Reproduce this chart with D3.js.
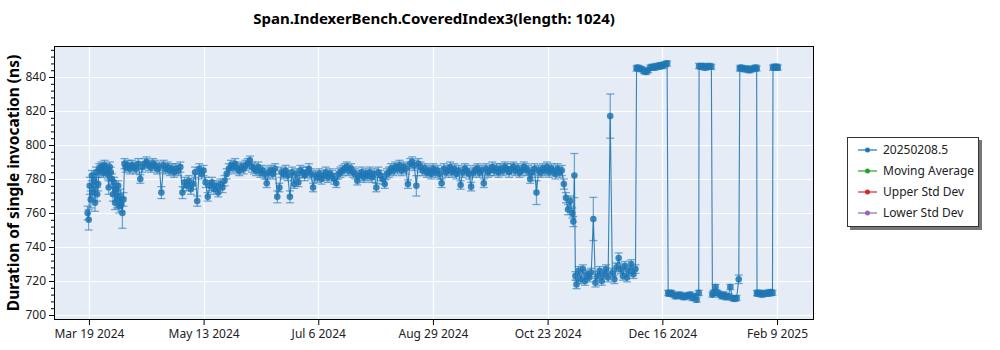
<!DOCTYPE html>
<html>
<head>
<meta charset="utf-8">
<script src="https://cdn.jsdelivr.net/npm/d3@7"></script>
<style>
  html, body { margin: 0; padding: 0; background: #fff; }
  svg { display: block; font-family: "Noto Sans", "Open Sans", sans-serif; }
</style>
</head>
<body>
<svg id="chart" width="1000" height="350"></svg>
<script>
const chartTitle = "Span.IndexerBench.CoveredIndex3(length: 1024)";
const yAxisTitle = "Duration of single invocation (ns)";
const seriesNames = ["20250208.5", "Moving Average", "Upper Std Dev", "Lower Std Dev"];
const seriesColors = ["#1f77b4", "#2ca02c", "#d62728", "#9467bd"];

const xTickDates = ["2024-03-19T15", "2024-05-13T01", "2024-07-06T11", "2024-08-29T21", "2024-10-23T07", "2024-12-16T18", "2025-02-09T04"];
const xDomainDates = ["2024-03-03T01", "2025-02-26T17"];
const yDomain = [697.06, 858.24];
const yTicks = [700, 720, 740, 760, 780, 800, 820, 840];
const yMinorTicks = [704, 708, 712, 716, 724, 728, 732, 736, 744, 748, 752, 756, 764, 768, 772, 776, 784, 788, 792, 796, 804, 808, 812, 816, 824, 828, 832, 836, 844, 848, 852, 856];

const runDates = [
  "2024-03-19T00","2024-03-19T12","2024-03-20T00","2024-03-20T12","2024-03-21T00","2024-03-21T12","2024-03-22T00","2024-03-22T12","2024-03-23T00","2024-03-23T12","2024-03-24T00","2024-03-24T12",
  "2024-03-25T00","2024-03-25T12","2024-03-26T00","2024-03-26T12","2024-03-27T00","2024-03-27T12","2024-03-28T00","2024-03-28T12","2024-03-29T00","2024-03-29T12","2024-03-30T00","2024-03-30T12",
  "2024-03-31T00","2024-03-31T12","2024-04-01T00","2024-04-01T12","2024-04-02T00","2024-04-02T12","2024-04-03T00","2024-04-03T12","2024-04-04T00","2024-04-04T12","2024-04-05T00","2024-04-05T12",
  "2024-04-06","2024-04-07","2024-04-08","2024-04-09","2024-04-10","2024-04-11","2024-04-12","2024-04-13","2024-04-14","2024-04-15","2024-04-16","2024-04-17","2024-04-18","2024-04-19",
  "2024-04-20","2024-04-21","2024-04-22","2024-04-23","2024-04-24","2024-04-25","2024-04-26","2024-04-27","2024-04-28","2024-04-29","2024-04-30","2024-05-01","2024-05-02",
  "2024-05-03","2024-05-04","2024-05-05","2024-05-06","2024-05-07","2024-05-08","2024-05-09","2024-05-10","2024-05-11","2024-05-12","2024-05-13","2024-05-14","2024-05-15",
  "2024-05-16","2024-05-17","2024-05-18","2024-05-19","2024-05-20","2024-05-21","2024-05-22","2024-05-23","2024-05-24","2024-05-25",
  "2024-05-26","2024-05-27","2024-05-28","2024-05-29","2024-05-30","2024-05-31",
  "2024-06-01","2024-06-02","2024-06-03","2024-06-04","2024-06-05","2024-06-06","2024-06-07","2024-06-08","2024-06-09","2024-06-10","2024-06-11","2024-06-12","2024-06-13","2024-06-14","2024-06-15",
  "2024-06-16","2024-06-17","2024-06-18","2024-06-19","2024-06-20","2024-06-21","2024-06-22","2024-06-23","2024-06-24","2024-06-25","2024-06-26","2024-06-27","2024-06-28","2024-06-29","2024-06-30",
  "2024-07-01","2024-07-02","2024-07-03","2024-07-04","2024-07-05","2024-07-06","2024-07-07","2024-07-08","2024-07-09","2024-07-10","2024-07-11","2024-07-12","2024-07-13","2024-07-14","2024-07-15","2024-07-16",
  "2024-07-17","2024-07-18","2024-07-19","2024-07-20","2024-07-21","2024-07-22","2024-07-23","2024-07-24","2024-07-25","2024-07-26","2024-07-27","2024-07-28","2024-07-29","2024-07-30","2024-07-31",
  "2024-08-01","2024-08-02","2024-08-03","2024-08-04","2024-08-05","2024-08-06","2024-08-07","2024-08-08","2024-08-09","2024-08-10","2024-08-11","2024-08-12","2024-08-13","2024-08-14","2024-08-15","2024-08-16",
  "2024-08-17","2024-08-18","2024-08-19","2024-08-20","2024-08-21","2024-08-22","2024-08-23","2024-08-24","2024-08-25","2024-08-26","2024-08-27","2024-08-28","2024-08-29","2024-08-30","2024-08-31",
  "2024-09-01","2024-09-02","2024-09-03","2024-09-04","2024-09-05","2024-09-06","2024-09-07","2024-09-08","2024-09-09","2024-09-10","2024-09-11","2024-09-12","2024-09-13","2024-09-14","2024-09-15",
  "2024-09-16","2024-09-17","2024-09-18","2024-09-19","2024-09-20","2024-09-21","2024-09-22","2024-09-23","2024-09-24","2024-09-25","2024-09-26","2024-09-27","2024-09-28","2024-09-29","2024-09-30",
  "2024-10-01","2024-10-02","2024-10-03","2024-10-04","2024-10-05","2024-10-06","2024-10-07","2024-10-08","2024-10-09","2024-10-10","2024-10-11","2024-10-12","2024-10-13","2024-10-14","2024-10-15",
  "2024-10-16","2024-10-17","2024-10-18","2024-10-19","2024-10-20","2024-10-21","2024-10-22","2024-10-23","2024-10-24","2024-10-25","2024-10-26","2024-10-27","2024-10-28","2024-10-29","2024-10-30",
  "2024-10-31","2024-11-01","2024-11-02","2024-11-03","2024-11-04T00","2024-11-04T12","2024-11-05T00","2024-11-05T12",
  "2024-11-06","2024-11-07","2024-11-08","2024-11-09","2024-11-10","2024-11-11","2024-11-12","2024-11-13","2024-11-14","2024-11-15","2024-11-16","2024-11-17","2024-11-18","2024-11-19","2024-11-20",
  "2024-11-21","2024-11-22","2024-11-23","2024-11-24","2024-11-25","2024-11-26","2024-11-27","2024-11-28","2024-11-29","2024-11-30","2024-12-01","2024-12-02","2024-12-03","2024-12-04T00",
  "2024-12-04T12","2024-12-05","2024-12-06","2024-12-07","2024-12-08","2024-12-09","2024-12-10","2024-12-11","2024-12-12","2024-12-13","2024-12-14","2024-12-15","2024-12-16","2024-12-17","2024-12-18","2024-12-19T00",
  "2024-12-19T12","2024-12-20","2024-12-21","2024-12-22","2024-12-23","2024-12-24","2024-12-25","2024-12-26","2024-12-27","2024-12-28","2024-12-29","2024-12-30","2024-12-31","2025-01-01","2025-01-02","2025-01-03T00",
  "2025-01-03T04","2025-01-04","2025-01-05","2025-01-06","2025-01-07","2025-01-08","2025-01-09T00",
  "2025-01-09T12","2025-01-10","2025-01-11","2025-01-12","2025-01-13","2025-01-14","2025-01-15","2025-01-16","2025-01-17","2025-01-18","2025-01-19","2025-01-20","2025-01-21","2025-01-22T00",
  "2025-01-22T12","2025-01-23","2025-01-24","2025-01-25","2025-01-26","2025-01-27","2025-01-28","2025-01-29","2025-01-30T00","2025-01-30T12",
  "2025-01-30T16","2025-01-31","2025-02-01","2025-02-02","2025-02-03","2025-02-04","2025-02-05","2025-02-06","2025-02-07T00",
  "2025-02-07T06","2025-02-08T00","2025-02-08T12","2025-02-09T00","2025-02-09T12"
];

const runValues = [
  760,756,776,768,782,772,779,766,784,771,777,786,
  785,787,786,784,788,785,786,783,775,787,784,780,
  771,778,766,774,768,776,764,770,765,760,768,789,
  787,788,786,788,787,786,789,780,787,789,790,788,787,789,
  788,786,787,772,788,786,787,785,786,784,786,785,787,
  772,778,776,779,774,777,784,767,786,783,785,778,769.5,
  776,778,774,776,772,777,775,779,783,786,
  788,787,789,786,785,787,
  786,788,789,791,787,786,785,787,784,785,783,777.5,784,785,783,
  786,769.5,775,784,783,785,782,769.5,784,777,783,778,785,784,782,
  784,786,783,775,782,781,783,780,782,784,781,783,782,780,777.5,783,
  784,785,786,787,785,786,784,783,779,782,784,781,783,782,784,
  781,783,775,784,782,780,777,783,784,786,785,787,786,788,785,787,
  786,777,789,790,788,776,789,787,785,786,784,785,783,786,784,
  785,783,777.5,786,784,785,787,784,786,783,785,776.5,784,786,785,
  783,775.5,784,785,786,784,785,777.5,786,784,785,787,785,786,784,
  786,785,787,786,784,786,787,785,786,784,785,787,786,785,780,
  784,786,772,785,784,786,785,787,784,786,785,783,786,784,785,
  777,769,762,767,760,755,782,723,
  718,726,721,727,720,724,722,725,756.5,719,723,726,720,724,727,
  722,817,725,721,728,733.5,727,723,729,722,726,730,724,727,
  845,845.5,845,844.5,843.5,843,844,845.5,846,845.5,846.5,846,847,846.5,847.5,848,
  713,712.5,713,712,711,711.5,712,711,710.5,711.5,711,712,710,711,709,713,
  846.5,846,846.5,845.5,846,846.5,846,
  712,713,716.5,713,712,711,712,710.5,711,716.5,710,709.5,710,721,
  845,845.5,845,844.5,845,844,844.5,845,845.5,845,
  713,712.5,713,712,712.5,713,712.5,713.5,713,
  845.5,846,845.5,846,845.5
];

const runErrors = [
  4,6,5,5,3,5,4,5,3,4,4,3,
  3,3,3,3,3,3,3,3,4,3,3,3,
  4,3,4,3,5,3,4,4,4,9,4,3,
  3,3,3,3,3,3,3,2.5,3,3,3,3,3,3,
  3,3,3,3.5,3,3,3,3,3,3,3,3,3,
  3.5,3,3,3,3,3,3,3,3,3,3,3,2.5,
  3,3,3,3,2.5,3,3,3,3,3,
  3,3,3,3,3,3,
  3,3,3,2.5,3,3,3,3,3,3,3,2.5,3,3,3,
  3,3.5,2.5,3,3,3,3,3.5,3,2.5,3,2.5,3,3,3,
  3,3,3,2.5,3,3,3,3,3,3,3,3,3,3,2.5,3,
  3,3,3,3,3,3,3,3,2.5,3,3,3,3,3,3,
  3,3,2.5,3,3,3,2.5,3,3,3,3,3,3,3,3,3,
  3,2.5,3,3,3,6,3,3,3,3,3,3,3,3,3,
  3,3,2.5,3,3,3,3,3,3,3,3,2.5,3,3,3,
  3,2.5,3,3,3,3,3,2.5,3,3,3,3,3,3,3,
  3,3,3,3,3,3,3,3,3,3,3,3,3,3,2.5,
  3,3,7,3,3,3,3,3,3,3,3,3,3,3,3,
  3,3,3,3,3,3,13,2.5,
  2.5,2.5,2.5,2.5,2.5,2.5,2.5,2.5,12.7,2.5,2.5,2.5,2.5,2.5,2.5,
  2.5,13,2.5,2.5,2.5,3,2.5,2.5,2.5,2.5,2.5,2.5,2.5,2.5,
  1.5,1.5,1.5,1.5,1.5,1.5,1.5,1.5,1.5,1.5,1.5,1.5,1.5,1.5,1.5,1.5,
  1.5,1.5,1.5,1.5,1.5,1.5,1.5,1.5,1.5,1.5,1.5,1.5,1.5,1.5,1.5,1.5,
  1.5,1.5,1.5,1.5,1.5,1.5,1.5,
  1.5,1.5,1.5,1.5,1.5,1.5,1.5,1.5,1.5,1.5,1.5,1.5,1.5,2.5,
  1.5,1.5,1.5,1.5,1.5,1.5,1.5,1.5,1.5,1.5,
  1.5,1.5,1.5,1.5,1.5,1.5,1.5,1.5,1.5,
  1.5,1.5,1.5,1.5,1.5
];

// ---------- layout ----------
const plot = { left: 54, top: 46, right: 814, bottom: 320 };
const blue = seriesColors[0];

const parseHour = d3.timeParse("%Y-%m-%dT%H");
const parseDay = d3.timeParse("%Y-%m-%d");
const parseDate = s => (s.length > 10 ? parseHour(s) : parseDay(s));

const data = runDates.map((d, i) => ({ t: parseDate(d), v: runValues[i], e: runErrors[i] }));

const x = d3.scaleTime().domain(xDomainDates.map(parseDate)).range([plot.left, plot.right]);
const y = d3.scaleLinear().domain(yDomain).range([plot.bottom, plot.top]);

const svg = d3.select("#chart");

// title
svg.append("text")
  .attr("x", (plot.left + plot.right) / 2).attr("y", 24)
  .attr("text-anchor", "middle")
  .attr("font-size", 15).attr("font-weight", "bold").attr("fill", "#000")
  .text(chartTitle);

// plot background
svg.append("rect")
  .attr("x", plot.left).attr("y", plot.top)
  .attr("width", plot.right - plot.left).attr("height", plot.bottom - plot.top)
  .attr("fill", "#e5ecf6");

// grid
const xTicks = xTickDates.map(parseDate);
const grid = svg.append("g").attr("stroke", "#fff").attr("stroke-width", 1.2);
grid.selectAll("line.gx").data(xTicks).join("line")
  .attr("x1", d => Math.round(x(d)) + 0.5).attr("x2", d => Math.round(x(d)) + 0.5)
  .attr("y1", plot.top).attr("y2", plot.bottom);
grid.selectAll("line.gy").data(yTicks).join("line")
  .attr("y1", d => Math.round(y(d)) + 0.5).attr("y2", d => Math.round(y(d)) + 0.5)
  .attr("x1", plot.left).attr("x2", plot.right);

// clip
svg.append("clipPath").attr("id", "clip").append("rect")
  .attr("x", plot.left).attr("y", plot.top)
  .attr("width", plot.right - plot.left).attr("height", plot.bottom - plot.top);

const marks = svg.append("g").attr("clip-path", "url(#clip)");

// connecting line
marks.append("path")
  .datum(data)
  .attr("fill", "none").attr("stroke", blue).attr("stroke-width", 1.1).attr("stroke-opacity", 0.9)
  .attr("d", d3.line().x(d => x(d.t)).y(d => y(d.v)));

// error bars
const eb = marks.append("g").attr("stroke", blue).attr("stroke-width", 1.3).attr("stroke-opacity", 0.6);
eb.selectAll("line.v").data(data).join("line")
  .attr("x1", d => x(d.t)).attr("x2", d => x(d.t))
  .attr("y1", d => y(d.v - d.e)).attr("y2", d => y(d.v + d.e));
eb.selectAll("line.c1").data(data).join("line")
  .attr("x1", d => x(d.t) - 4).attr("x2", d => x(d.t) + 4)
  .attr("y1", d => y(d.v - d.e)).attr("y2", d => y(d.v - d.e));
eb.selectAll("line.c2").data(data).join("line")
  .attr("x1", d => x(d.t) - 4).attr("x2", d => x(d.t) + 4)
  .attr("y1", d => y(d.v + d.e)).attr("y2", d => y(d.v + d.e));

// markers
marks.append("g").selectAll("circle").data(data).join("circle")
  .attr("cx", d => x(d.t)).attr("cy", d => y(d.v)).attr("r", 3.3)
  .attr("fill", blue).attr("fill-opacity", 0.85);

// border
svg.append("rect")
  .attr("x", plot.left + 0.5).attr("y", plot.top + 0.5)
  .attr("width", plot.right - plot.left - 1).attr("height", plot.bottom - plot.top - 1)
  .attr("fill", "none").attr("stroke", "#000").attr("stroke-width", 1);

// y axis
const yAxis = d3.axisLeft(y).tickValues(yTicks).tickSize(5).tickPadding(3).tickFormat(d3.format("d"));
const gy = svg.append("g").attr("transform", `translate(${plot.left},0)`).call(yAxis);
gy.select(".domain").remove();
gy.selectAll("text").attr("font-size", 12).attr("fill", "#222").attr("font-family", "Noto Sans, Open Sans, sans-serif");
gy.selectAll(".tick line").attr("stroke", "#000");
const yMinorAxis = d3.axisLeft(y).tickValues(yMinorTicks).tickSize(3).tickFormat("");
const gym = svg.append("g").attr("transform", `translate(${plot.left},0)`).call(yMinorAxis);
gym.select(".domain").remove();
gym.selectAll(".tick line").attr("stroke", "#000");

// x axis
const xAxis = d3.axisBottom(x).tickValues(xTicks).tickSize(5).tickPadding(4).tickFormat(d3.timeFormat("%b %-d %Y"));
const gx = svg.append("g").attr("transform", `translate(0,${plot.bottom})`).call(xAxis);
gx.select(".domain").remove();
gx.selectAll("text").attr("font-size", 12).attr("fill", "#222").attr("font-family", "Noto Sans, Open Sans, sans-serif");
gx.selectAll(".tick line").attr("stroke", "#000");

// y title
svg.append("text")
  .attr("transform", `translate(19,${(plot.top + plot.bottom) / 2}) rotate(-90)`)
  .attr("text-anchor", "middle")
  .attr("font-size", 15.5).attr("font-weight", "bold").attr("fill", "#000")
  .text(yAxisTitle);

// legend
const lg = svg.append("g").attr("transform", "translate(847,137)");
lg.append("rect").attr("x", 3).attr("y", 3).attr("width", 132).attr("height", 90).attr("fill", "#777");
lg.append("rect").attr("x", 0.5).attr("y", 0.5).attr("width", 131).attr("height", 89)
  .attr("fill", "#fff").attr("stroke", "#333").attr("stroke-width", 1);
const items = lg.selectAll("g.item").data(seriesNames).join("g")
  .attr("transform", (d, i) => `translate(0,${13 + i * 21})`);
items.append("line").attr("x1", 11).attr("x2", 30).attr("y1", 0).attr("y2", 0)
  .attr("stroke", (d, i) => seriesColors[i]).attr("stroke-width", 1.2);
items.append("circle").attr("cx", 20.5).attr("cy", 0).attr("r", 2.5)
  .attr("fill", (d, i) => seriesColors[i]);
items.append("text").attr("x", 36).attr("y", 0).attr("dy", "0.35em")
  .attr("font-size", 12).attr("fill", "#222").text(d => d);
</script>
</body>
</html>
